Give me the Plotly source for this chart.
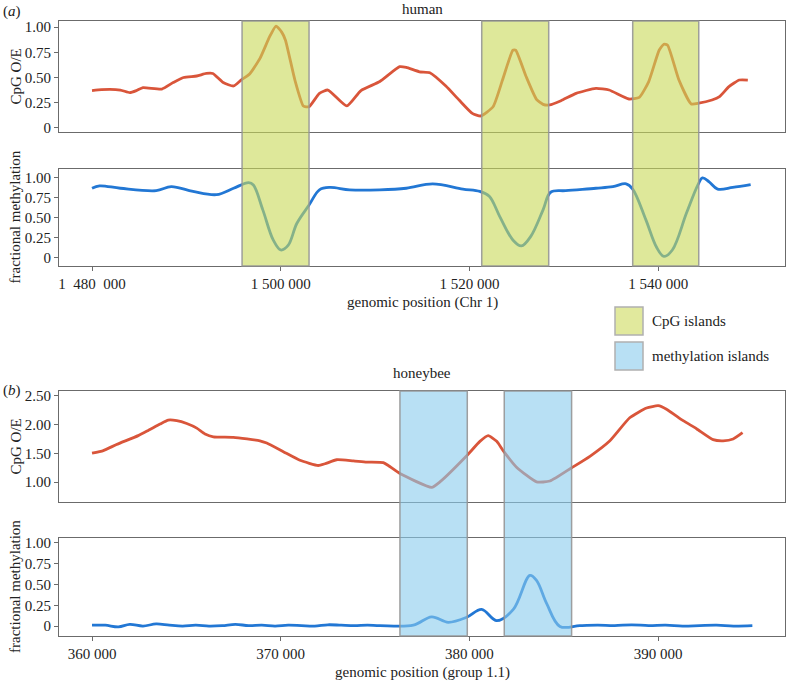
import plotly.graph_objects as go

# ---------------- data ----------------
human_cpg_pos = [1480000, 1481000, 1483000, 1484000, 1484700, 1485400, 1487400, 1488600, 1489700,
                 1491100, 1492100, 1492800, 1493900, 1495000, 1495800, 1496700, 1497800, 1498800,
                 1499500, 1500100, 1500500, 1501500, 1502400, 1503000, 1504100, 1505000, 1507000,
                 1508500, 1510500, 1512600, 1513300, 1514700, 1515800, 1517500, 1518900, 1520300,
                 1521200, 1522500, 1523500, 1524600, 1524900, 1526000, 1527100, 1527800, 1528500,
                 1529700, 1531300, 1533400, 1534800, 1536900, 1538000, 1539000, 1540100, 1540600,
                 1541000, 1542200, 1543500, 1544300, 1545700, 1546500, 1547500, 1548600, 1549500]
human_cpg_val = [0.37, 0.38, 0.376, 0.35, 0.37, 0.40, 0.386, 0.45, 0.50,
                 0.515, 0.54, 0.54, 0.45, 0.416, 0.475, 0.535, 0.69, 0.90,
                 1.01, 0.95, 0.87, 0.475, 0.218, 0.21, 0.343, 0.376, 0.218,
                 0.37, 0.46, 0.607, 0.60, 0.557, 0.548, 0.416, 0.277, 0.145,
                 0.119, 0.21, 0.475, 0.77, 0.77, 0.51, 0.284, 0.234, 0.228,
                 0.27, 0.343, 0.393, 0.376, 0.287, 0.304, 0.46, 0.77, 0.83,
                 0.82, 0.475, 0.238, 0.245, 0.277, 0.31, 0.41, 0.475, 0.475]

human_meth_pos = [1480000, 1480800, 1483000, 1486800, 1488400, 1490700, 1493200, 1495000, 1496600,
                  1497100, 1498100, 1499200, 1500000, 1500800, 1501700, 1503000, 1504100, 1505200,
                  1507300, 1510500, 1513300, 1516100, 1519300, 1521100, 1522100, 1523200, 1524600,
                  1525500, 1526500, 1527800, 1528600, 1530200, 1533400, 1535200, 1536600, 1537300,
                  1538700, 1539800, 1540600, 1541500, 1543000, 1544200, 1544700, 1545400, 1546300,
                  1547900, 1549800]
human_meth_val = [0.87, 0.90, 0.87, 0.84, 0.89, 0.83, 0.79, 0.87, 0.94,
                  0.91, 0.60, 0.225, 0.10, 0.16, 0.43, 0.66, 0.85, 0.88,
                  0.85, 0.85, 0.87, 0.925, 0.86, 0.83, 0.77, 0.52, 0.225,
                  0.15, 0.27, 0.60, 0.82, 0.84, 0.87, 0.89, 0.925, 0.86,
                  0.475, 0.14, 0.02, 0.10, 0.56, 0.91, 1.00, 0.95, 0.86,
                  0.88, 0.915]

bee_cpg_pos = [360000, 360600, 361300, 362450, 362980, 363600, 364040, 364490, 365020, 365550,
               365990, 366430, 367490, 368900, 369260, 370140, 371020, 371990, 372350, 372970,
               373850, 374560, 375440, 375700, 376320, 378000, 378440, 379860, 380560, 381000,
               381450, 381800, 382500, 383560, 384270, 385420, 386390, 387450, 388500, 389390,
               390010, 390450, 391330, 392040, 392920, 393450, 393980, 394480]
bee_cpg_val = [1.505, 1.55, 1.655, 1.81, 1.90, 2.01, 2.08, 2.07, 2.02, 1.94,
               1.84, 1.79, 1.78, 1.72, 1.68, 1.53, 1.38, 1.29, 1.32, 1.39,
               1.37, 1.35, 1.34, 1.29, 1.15, 0.91, 1.005, 1.46, 1.71, 1.81,
               1.71, 1.545, 1.26, 1.005, 1.02, 1.25, 1.45, 1.72, 2.12, 2.29,
               2.33, 2.27, 2.07, 1.93, 1.74, 1.72, 1.75, 1.86]

bee_meth_pos = [360000, 360700, 361400, 362000, 362700, 363400, 364100, 364800, 365500, 366200,
                366900, 367600, 368300, 369000, 369700, 370400, 371100, 371800, 372500, 373200,
                373900, 374600, 375260, 377030, 378000, 378880, 379860, 380650, 381450, 382330,
                383210, 383560, 384100, 384800, 385860, 386800, 387700, 388600, 389500, 390400,
                391300, 392200, 393100, 394000, 395000]
bee_meth_val = [0.01, 0.01, -0.01, 0.02, 0.00, 0.025, 0.01, 0.00, 0.01, 0.00,
                0.005, 0.02, 0.005, 0.01, 0.00, 0.01, 0.005, 0.00, 0.015, 0.01,
                0.005, 0.01, 0.005, 0.01, 0.11, 0.045, 0.105, 0.20, 0.065, 0.20,
                0.61, 0.55, 0.27, -0.005, 0.005, 0.01, 0.005, 0.015, 0.005, 0.01,
                0.00, 0.005, 0.01, 0.00, 0.005]

cpg_island_start = [1495900, 1521300, 1537300]
cpg_island_end = [1503000, 1528400, 1544300]
meth_island_start = [376320, 381850]
meth_island_end = [379890, 385420]

human_xticks = [1480000, 1500000, 1520000, 1540000]
human_xticklabels = ["1  480  000", "1 500 000", "1 520 000", "1 540 000"]
bee_xticks = [360000, 370000, 380000, 390000]
bee_xticklabels = ["360 000", "370 000", "380 000", "390 000"]
unit_yticks = [0, 0.25, 0.5, 0.75, 1.0]
unit_yticklabels = ["0", "0.25", "0.50", "0.75", "1.00"]
bee_cpg_yticks = [1.0, 1.5, 2.0, 2.5]
bee_cpg_yticklabels = ["1.00", "1.50", "2.00", "2.50"]

# ---------------- styling ----------------
W, H = 786, 682
FONT = "Liberation Serif"
FS = 15
RED = "#d9553a"
BLUE = "#2277d4"
AXC = "#6b6b6b"
CPG_FILL = "rgba(200,216,86,0.6)"
METH_FILL = "rgba(137,203,237,0.6)"
RECT_LINE = "rgba(150,150,150,0.9)"

def px(xp):
    return xp / W

def py(yp):
    return 1 - yp / H

X0, X1 = px(59), px(785)
dom1 = [py(132), py(21)]
dom2 = [py(266), py(169)]
dom3 = [py(502), py(391)]
dom4 = [py(636), py(538)]

human_xr = [1476500, 1553440]
bee_xr = [358250, 396730]

fig = go.Figure()
fig.add_trace(go.Scatter(x=human_cpg_pos, y=human_cpg_val, mode="lines", xaxis="x", yaxis="y",
                         line=dict(color=RED, width=2.8, shape="spline", smoothing=0.5), showlegend=False))
fig.add_trace(go.Scatter(x=human_meth_pos, y=human_meth_val, mode="lines", xaxis="x2", yaxis="y2",
                         line=dict(color=BLUE, width=2.8, shape="spline", smoothing=1.0), showlegend=False))
fig.add_trace(go.Scatter(x=bee_cpg_pos, y=bee_cpg_val, mode="lines", xaxis="x3", yaxis="y3",
                         line=dict(color=RED, width=2.8, shape="spline", smoothing=0.5), showlegend=False))
fig.add_trace(go.Scatter(x=bee_meth_pos, y=bee_meth_val, mode="lines", xaxis="x4", yaxis="y4",
                         line=dict(color=BLUE, width=2.8, shape="spline", smoothing=1.0), showlegend=False))

tickfont = dict(family=FONT, size=FS, color="#222")
common_axis = dict(showgrid=False, zeroline=False, showline=True, mirror=True, linecolor=AXC,
                   linewidth=1, ticks="outside", ticklen=4, tickcolor=AXC, tickfont=tickfont,
                   automargin=False)
no_tick_axis = {k: v for k, v in common_axis.items() if k != "ticks"}

fig.update_layout(
    width=W, height=H, autosize=False,
    margin=dict(l=0, r=0, t=0, b=0, autoexpand=False),
    paper_bgcolor="white", plot_bgcolor="white",
    xaxis=dict(domain=[X0, X1], range=human_xr, anchor="y", showticklabels=False, ticks="", **no_tick_axis),
    yaxis=dict(domain=dom1, range=[-0.04, 1.06], anchor="x", tickvals=unit_yticks,
               ticktext=unit_yticklabels, **common_axis),
    xaxis2=dict(domain=[X0, X1], range=human_xr, anchor="y2", tickvals=human_xticks,
                ticktext=human_xticklabels, **common_axis),
    yaxis2=dict(domain=dom2, range=[-0.1, 1.11], anchor="x2", tickvals=unit_yticks,
                ticktext=unit_yticklabels, **common_axis),
    xaxis3=dict(domain=[X0, X1], range=bee_xr, anchor="y3", showticklabels=False, ticks="", **no_tick_axis),
    yaxis3=dict(domain=dom3, range=[0.655, 2.586], anchor="x3", tickvals=bee_cpg_yticks,
                ticktext=bee_cpg_yticklabels, **common_axis),
    xaxis4=dict(domain=[X0, X1], range=bee_xr, anchor="y4", tickvals=bee_xticks,
                ticktext=bee_xticklabels, **common_axis),
    yaxis4=dict(domain=dom4, range=[-0.12, 1.06], anchor="x4", tickvals=unit_yticks,
                ticktext=unit_yticklabels, **common_axis),
)

shapes = []
for s, e in zip(cpg_island_start, cpg_island_end):
    shapes.append(dict(type="rect", xref="x", yref="paper", x0=s, x1=e, y0=dom2[0], y1=dom1[1],
                       fillcolor=CPG_FILL, line=dict(color=RECT_LINE, width=1.5), layer="above"))
for s, e in zip(meth_island_start, meth_island_end):
    shapes.append(dict(type="rect", xref="x3", yref="paper", x0=s, x1=e, y0=dom4[0], y1=dom3[1],
                       fillcolor=METH_FILL, line=dict(color=RECT_LINE, width=1.5), layer="above"))
# legend keys
shapes.append(dict(type="rect", xref="paper", yref="paper", x0=px(615), x1=px(643), y0=py(335), y1=py(307),
                   fillcolor="#e1e99d", line=dict(color="#b0b0b0", width=1.5)))
shapes.append(dict(type="rect", xref="paper", yref="paper", x0=px(615), x1=px(643), y0=py(370), y1=py(342),
                   fillcolor="#b8e0f4", line=dict(color="#b0b0b0", width=1.5)))
fig.update_layout(shapes=shapes)


def ann(text, x, y, xanchor="center", yanchor="middle", angle=0, size=FS):
    return dict(text=text, x=x, y=y, xref="paper", yref="paper", showarrow=False,
                xanchor=xanchor, yanchor=yanchor, textangle=angle,
                font=dict(family=FONT, size=size, color="#222"))

annotations = [
    ann("human", px(422), py(9)),
    ann("honeybee", px(422), py(373)),
    ann("(<i>a</i>)", px(1), py(12), xanchor="left"),
    ann("(<i>b</i>)", px(1), py(390), xanchor="left"),
    ann("CpG O/E", px(15), (dom1[0] + dom1[1]) / 2, angle=-90),
    ann("fractional methylation", px(15), (dom2[0] + dom2[1]) / 2, angle=-90),
    ann("CpG O/E", px(15), (dom3[0] + dom3[1]) / 2, angle=-90),
    ann("fractional methylation", px(15), (dom4[0] + dom4[1]) / 2, angle=-90),
    ann("genomic position (Chr 1)", px(422), py(302)),
    ann("genomic position (group 1.1)", px(422), py(672)),
    ann("CpG islands", px(650), py(321), xanchor="left"),
    ann("methylation islands", px(650), py(356), xanchor="left"),
]
fig.update_layout(annotations=annotations)

post = ("document.body.style.margin='0';document.body.style.padding='0';"
        "document.body.style.overflow='hidden';"
        "var gd=document.getElementById('{plot_id}');"
        "Plotly.relayout(gd,{width:786,height:682});")

fig.write_html("out.html", config={"responsive": False, "displayModeBar": False}, post_script=post)
